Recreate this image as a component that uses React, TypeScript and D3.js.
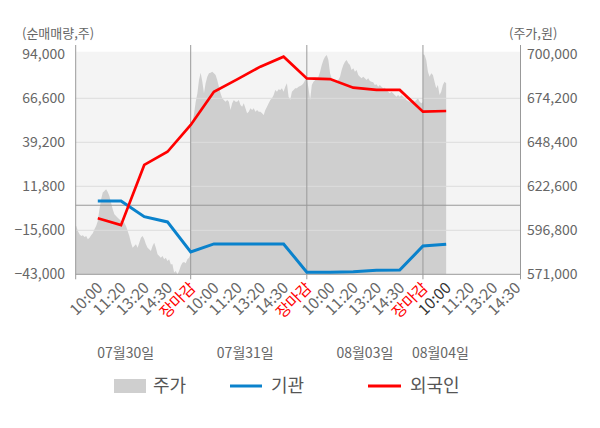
import React from "react";
import * as d3 from "d3";

const slotLabels = [
  "10:00", "11:20", "13:20", "14:30", "장마감",
  "10:00", "11:20", "13:20", "14:30", "장마감",
  "10:00", "11:20", "13:20", "14:30", "장마감",
  "10:00", "11:20", "13:20", "14:30",
];
const dayLabels = ["07월30일", "07월31일", "08월03일", "08월04일"];
const dayLabelSlot = [2.2, 7.35, 12.5, 15.75];
const daySpans = [[0, 5], [5, 10], [10, 15], [15, 16]];
const daySeparators = [5, 10, 15];
const leftTicks = [-43000, -15600, 11800, 39200, 66600, 94000];
const rightTicks = [571000, 596800, 622600, 648400, 674200, 700000];

// 기관 / 외국인 net volume at slots 1..16
const institution = [2600, 2600, -7100, -10400, -29100, -24100, -24100, -24100, -24100, -41700, -41700, -41400, -40500, -40400, -25400, -24300];
const foreign = [-8100, -12400, 25100, 33300, 50000, 70700, 78400, 86300, 92500, 79000, 78600, 73200, 71800, 71800, 58300, 58700];

const priceDay1 = [599300, 599300, 596400, 594500, 593500, 593900, 592900, 593500, 591500, 592500, 593900, 595000, 597400, 599300, 602300, 609100, 615000, 618900, 619800, 620800, 619300, 616900, 613000, 609100, 606200, 605200, 604200, 603300, 602300, 601800, 601300, 599300, 596400, 593500, 589500, 586600, 587600, 588600, 586600, 589500, 592500, 593500, 591500, 588600, 586600, 585700, 584700, 587600, 589500, 586600, 582700, 581700, 580700, 581700, 579800, 580700, 578800, 579800, 576900, 576900, 572000, 572900, 571000, 572900, 575900, 577800, 578200, 577500, 579800, 580700, 582700];
const priceDay2 = [656600, 660000, 665000, 672000, 677000, 685000, 689200, 684000, 677100, 683000, 686900, 688900, 689200, 689800, 688900, 687900, 684900, 681000, 677100, 674200, 673200, 672200, 673200, 672200, 667300, 671300, 673200, 672200, 672200, 673200, 670300, 669300, 671300, 668300, 665400, 666300, 668300, 667300, 668300, 666300, 667300, 666300, 666300, 665400, 664400, 667300, 669300, 671300, 673200, 674200, 676100, 679100, 678100, 679500, 679100, 680100, 678100, 681000, 683000, 675100, 673200, 678100, 679100, 680100, 680100, 681000, 681400, 682000, 683000, 684900, 685900];
const priceDay3 = [685900, 680100, 673200, 682000, 683900, 684900, 685900, 686900, 689800, 693700, 696700, 698600, 699600, 696700, 688900, 685900, 684900, 684400, 683900, 684900, 686900, 690800, 693700, 695700, 696700, 694700, 693700, 690800, 691800, 689800, 690800, 687900, 686900, 685900, 686900, 685900, 684900, 685900, 684400, 683900, 683600, 682000, 682400, 681000, 682000, 681000, 680100, 680400, 679100, 678100, 677100, 678100, 677100, 676100, 675100, 676100, 675100, 676100, 675100, 674200, 673200, 672600, 672200, 671900, 673200, 672200, 673200, 674200, 672200, 671300, 672000];
const priceDay4 = [700000, 699600, 696700, 689800, 686900, 688900, 687900, 683900, 680100, 682000, 676100, 678100, 682000, 683900, 683000];
const priceDays = [priceDay1, priceDay2, priceDay3, priceDay4];

const W = 600;
const H = 428;
const plotL = 75.7;
const plotR = 520.5;
const plotT = 51.7;
const yTop = 54.3;
const yBot = 274.3;
const FONT = "'Noto Sans CJK KR', 'Noto Sans', sans-serif";

export default function App() {
  const x = d3.scaleLinear().domain([0, 19.2]).range([74.57, 520.5]);
  const yL = d3.scaleLinear().domain([-43000, 94000]).range([yBot, yTop]);
  const yR = d3.scaleLinear().domain([571000, 700000]).range([yBot, yTop]);

  const pricePts: { s: number; v: number }[] = [];
  priceDays.forEach((vals, d) => {
    const [s0, s1] = daySpans[d];
    vals.forEach((v, k) => {
      pricePts.push({ s: s0 + (k * (s1 - s0)) / (vals.length - 1), v });
    });
  });
  const areaPath = d3
    .area<{ s: number; v: number }>()
    .x((d) => x(d.s))
    .y0(yBot)
    .y1((d) => yR(d.v))(pricePts) as string;

  const line = d3
    .line<number>()
    .x((_, i) => x(i + 1))
    .y((d) => yL(d));

  const fmt = d3.format(",");

  return (
    <svg width={W} height={H} style={{ position: "absolute", left: 0, top: 0, background: "#fff" }} fontFamily={FONT}>
      <defs>
        <clipPath id="plotClip">
          <rect x={plotL} y={plotT} width={plotR - plotL} height={yBot - plotT} />
        </clipPath>
      </defs>
      <rect x={plotL} y={plotT} width={plotR - plotL} height={yBot - plotT} fill="#f4f4f4" />
      <path d={areaPath} fill="#cfcfcf" clipPath="url(#plotClip)" />
      {leftTicks.slice(1, -1).map((t) => (
        <line key={t} x1={plotL} x2={plotR} y1={yL(t)} y2={yL(t)} stroke="#dcdcdc" strokeWidth={1} />
      ))}
      <line x1={plotL} x2={plotR} y1={yL(0)} y2={yL(0)} stroke="#999" strokeWidth={1} />
      {daySeparators.map((s) => (
        <line key={s} x1={x(s)} x2={x(s)} y1={45} y2={yBot} stroke="#999" strokeWidth={1} />
      ))}
      <line x1={plotL} x2={plotL} y1={45} y2={yBot + 5} stroke="#999" strokeWidth={1} />
      <line x1={plotR} x2={plotR} y1={45} y2={yBot + 5} stroke="#999" strokeWidth={1} />
      <line x1={plotL} x2={plotR} y1={yBot} y2={yBot} stroke="#999" strokeWidth={1} />
      {daySeparators.map((s) => (
        <line key={"t" + s} x1={x(s)} x2={x(s)} y1={yBot} y2={yBot + 5} stroke="#999" strokeWidth={1} />
      ))}

      <path d={line(institution) as string} fill="none" stroke="#0a82cc" strokeWidth={3} />
      <path d={line(foreign) as string} fill="none" stroke="#ff0000" strokeWidth={2.7} />

      {leftTicks.map((t) => (
        <text key={t} x={65} y={yL(t)} dy="0.35em" textAnchor="end" fontSize={14} fill="#666">
          {fmt(t)}
        </text>
      ))}
      {rightTicks.map((t) => (
        <text key={t} x={527} y={yR(t)} dy="0.35em" textAnchor="start" fontSize={14} fill="#666">
          {fmt(t)}
        </text>
      ))}
      <text x={22} y={33} dy="0.35em" fontSize={13} fill="#666">(순매매량,주)</text>
      <text x={509} y={33} dy="0.35em" fontSize={13} fill="#666">(주가,원)</text>

      {slotLabels.map((lab, i) => {
        const px = x(i + 1) + 2;
        const color = lab === "장마감" ? "#ff0000" : i === 15 ? "#333" : "#666";
        return (
          <text key={i} transform={`translate(${px},285) rotate(-45)`} textAnchor="end" dy="0.35em" fontSize={15.5} fill={color}>
            {lab}
          </text>
        );
      })}
      {dayLabels.map((lab, i) => (
        <text key={lab} x={x(dayLabelSlot[i])} y={353} dy="0.35em" textAnchor="middle" fontSize={14} fill="#666">
          {lab}
        </text>
      ))}

      <rect x={114} y={379} width={32} height={14} fill="#cfcfcf" />
      <text x={153} y={386} dy="0.35em" fontSize={18} fill="#555">주가</text>
      <line x1={230} x2={262} y1={386} y2={386} stroke="#0a82cc" strokeWidth={3} />
      <text x={271} y={386} dy="0.35em" fontSize={18} fill="#555">기관</text>
      <line x1={368} x2={401} y1={386} y2={386} stroke="#ff0000" strokeWidth={3} />
      <text x={410} y={386} dy="0.35em" fontSize={18} fill="#555">외국인</text>
    </svg>
  );
}
